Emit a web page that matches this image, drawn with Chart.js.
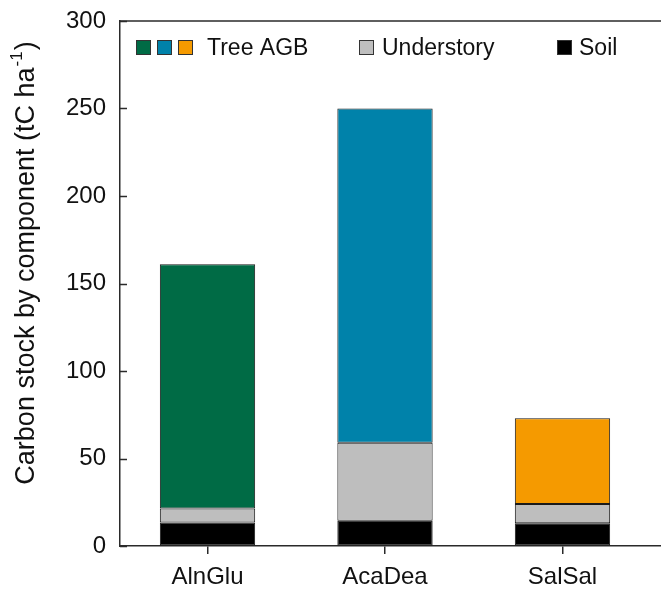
<!DOCTYPE html>
<html>
<head>
<meta charset="utf-8">
<script src="https://cdn.jsdelivr.net/npm/chart.js@4/dist/chart.umd.min.js"></script>
<style>
  html, body { margin: 0; padding: 0; background: #fff; overflow: hidden; }
  #wrap { width: 661px; height: 592px; }
</style>
</head>
<body>
<div id="wrap"><canvas id="chart" width="661" height="592"></canvas></div>
<script>
// Stand types (x positions 0, 1, 2)
const categories = ['AlnGlu', 'AcaDea', 'SalSal'];
// Carbon stock per component, tC ha-1
const soil = [13.5, 14.5, 13];
const understory = [8, 44.5, 11];
const treeAGB = [139.5, 191, 49];
const treeColors = ['#006b45', '#0082aa', '#f59a00'];
const yTicks = [0, 50, 100, 150, 200, 250, 300];

const FONT = '"Liberation Sans", Arial, sans-serif';
const AXIS_COLOR = '#2a2a2a';

const toPoints = arr => arr.map((v, i) => ({ x: i, y: v }));

// Top frame line, inward y ticks, axis title and legend
const decorations = {
  id: 'decorations',
  afterDraw(chart) {
    const { ctx, scales } = chart;
    const x = scales.x, y = scales.y;
    const left = x.left, right = x.right;
    const top = y.getPixelForValue(300);
    ctx.save();
    ctx.strokeStyle = AXIS_COLOR;
    ctx.lineWidth = 1.5;
    ctx.beginPath();
    ctx.moveTo(left, top);
    ctx.lineTo(right, top);
    ctx.stroke();
    // inward tick marks on the left axis
    ctx.beginPath();
    yTicks.forEach(v => {
      const p = Math.round(y.getPixelForValue(v)) + 0.5;
      ctx.moveTo(left, p); ctx.lineTo(left + 7, p);
    });
    ctx.stroke();

    // y axis title with superscript, centred on the plot height
    ctx.fillStyle = '#111';
    ctx.font = '27px ' + FONT;
    const main = 'Carbon stock by component (tC ha';
    const wMain = ctx.measureText(main).width;
    const wClose = ctx.measureText(')').width;
    ctx.font = '17px ' + FONT;
    const wSup = ctx.measureText('-1').width;
    const total = wMain + wSup + 2 + wClose;
    ctx.translate(34, 263 + total / 2);
    ctx.rotate(-Math.PI / 2);
    ctx.textBaseline = 'alphabetic';
    ctx.textAlign = 'left';
    ctx.font = '27px ' + FONT;
    ctx.fillText(main, 0, 0);
    ctx.font = '17px ' + FONT;
    ctx.fillText('-1', wMain + 1, -12);
    ctx.font = '27px ' + FONT;
    ctx.fillText(')', wMain + wSup + 2, 0);
    ctx.restore();

    // legend
    ctx.save();
    ctx.font = '23px ' + FONT;
    ctx.textBaseline = 'alphabetic';
    ctx.strokeStyle = '#333';
    ctx.lineWidth = 1;
    const box = (bx, color) => {
      ctx.fillStyle = color;
      ctx.fillRect(bx, 40, 15, 15);
      ctx.strokeRect(bx + 0.5, 40.5, 14, 14);
    };
    const label = (text, lx) => {
      ctx.fillStyle = '#111';
      ctx.fillText(text, lx, 55);
    };
    box(136, treeColors[0]);
    box(157, treeColors[1]);
    box(178, treeColors[2]);
    label('Tree AGB', 207);
    box(359, '#bebebe');
    label('Understory', 382);
    box(557, '#000000');
    label('Soil', 579);
    ctx.restore();
  }
};

const barStyle = {
  borderColor: '#1a1a1a',
  borderWidth: 1,
  borderSkipped: false,
  barPercentage: 1,
  categoryPercentage: 0.537
};

new Chart(document.getElementById('chart'), {
  type: 'bar',
  data: {
    datasets: [
      { label: 'Soil', data: toPoints(soil), backgroundColor: '#000000', ...barStyle },
      { label: 'Understory', data: toPoints(understory), backgroundColor: '#bebebe', ...barStyle },
      { label: 'Tree AGB', data: toPoints(treeAGB), backgroundColor: treeColors, ...barStyle }
    ]
  },
  options: {
    responsive: false,
    animation: false,
    events: [],
    layout: { padding: { top: 21, left: 0, right: 0, bottom: 0 } },
    plugins: { legend: { display: false }, tooltip: { enabled: false } },
    scales: {
      x: {
        type: 'linear',
        stacked: true,
        offset: false,
        min: -0.493,
        max: 2.555,
        afterBuildTicks: s => { s.ticks = categories.map((c, i) => ({ value: i })); },
        ticks: {
          callback: v => categories[v],
          font: { family: FONT, size: 24 },
          color: '#111',
          padding: 9,
          maxRotation: 0,
          autoSkip: false
        },
        grid: { offset: false, drawOnChartArea: false, drawTicks: true, tickLength: 8, color: AXIS_COLOR, lineWidth: 1.5 },
        border: { display: true, color: AXIS_COLOR, width: 1.5 },
        afterFit: s => {
          s.height = 46;
          s.paddingLeft = 0; s.paddingRight = 0;
        }
      },
      y: {
        stacked: true,
        min: 0,
        max: 300,
        afterBuildTicks: s => { s.ticks = yTicks.map(v => ({ value: v })); },
        ticks: {
          font: { family: FONT, size: 24 },
          color: '#111',
          padding: 14
        },
        grid: { drawOnChartArea: false, drawTicks: false },
        border: { display: true, color: AXIS_COLOR, width: 1.5 },
        afterFit: s => {
          s.width = 120;
          s.paddingTop = 0; s.paddingBottom = 0;
        }
      }
    }
  },
  plugins: [decorations]
});
</script>
</body>
</html>
